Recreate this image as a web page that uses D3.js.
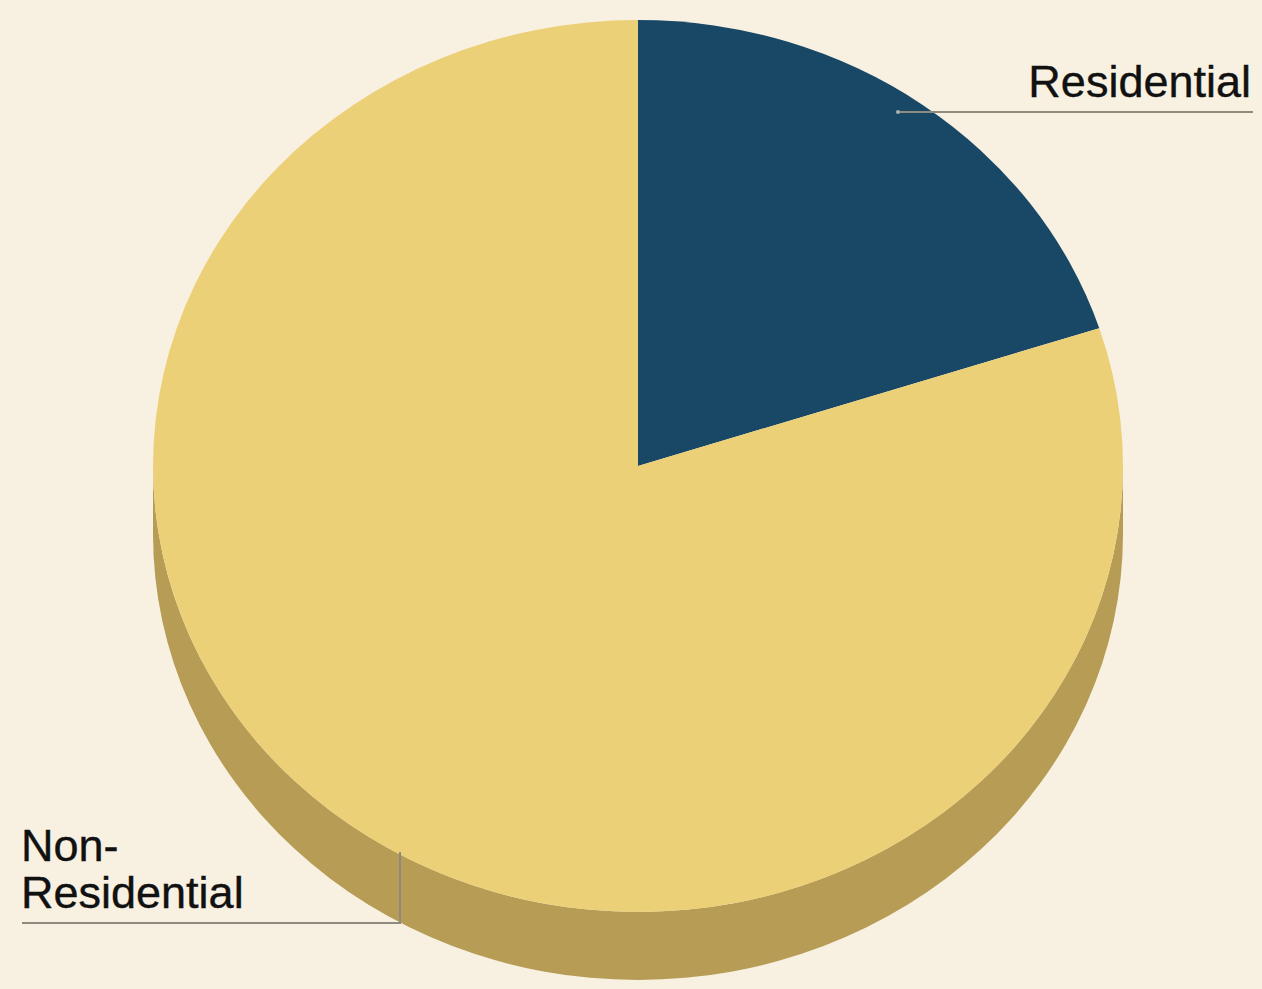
<!DOCTYPE html>
<html><head><meta charset="utf-8">
<script src="https://cdn.jsdelivr.net/npm/d3@7"></script>
<style>html,body{margin:0;padding:0;background:#f8f0e0;}svg{display:block;}</style>
</head><body>
<script>
const categories = ["Residential", "Non-Residential"];
const values = [20, 80];
const colors = ["#184866", "#ecd077"];

const W = 1262, H = 989;
const cx = 638, cy = 466, rx = 485, ry = 446, depth = 68;
const sideColor = "#b79c55";

const svg = d3.select("body").append("svg").attr("width", W).attr("height", H);
svg.append("rect").attr("width", W).attr("height", H).attr("fill", "#f8f1e1");

// side band (extrusion)
const sp = `M${cx - rx},${cy} L${cx - rx},${cy + depth} A${rx},${ry} 0 0 0 ${cx + rx},${cy + depth} L${cx + rx},${cy} A${rx},${ry} 0 0 1 ${cx - rx},${cy} Z`;
svg.append("path").attr("d", sp).attr("fill", sideColor);

// top face
const pie = d3.pie().sort(null).value(d => d)(values);
const arc = d3.arc().innerRadius(0).outerRadius(ry);
const g = svg.append("g").attr("transform", `translate(${cx},${cy}) scale(${rx / ry},1)`);
g.selectAll("path").data(pie).enter().append("path")
  .attr("d", arc)
  .attr("fill", (d, i) => colors[i]);

// labels
const font = "'Liberation Sans', Arial, Helvetica, sans-serif";
const lineColor = "#8d8b80";

svg.append("line").attr("x1", 898).attr("y1", 112).attr("x2", 1253).attr("y2", 112)
  .attr("stroke", lineColor).attr("stroke-width", 2);
svg.append("circle").attr("cx", 898).attr("cy", 112).attr("r", 2).attr("fill", "#b0b0a8");
svg.append("text").attr("x", 1251).attr("y", 97).attr("text-anchor", "end")
  .attr("font-family", font).attr("font-size", 45).attr("fill", "#111111")
  .attr("stroke", "#111111").attr("stroke-width", 0.4)
  .text(categories[0]);

svg.append("polyline").attr("points", "22,923 400,923 400,852")
  .attr("fill", "none").attr("stroke", lineColor).attr("stroke-width", 2);
const t2 = svg.append("text").attr("font-family", font).attr("font-size", 45).attr("fill", "#111111")
  .attr("stroke", "#111111").attr("stroke-width", 0.4);
t2.append("tspan").attr("x", 21).attr("y", 861).text("Non-");
t2.append("tspan").attr("x", 21).attr("y", 908).text("Residential");
</script>
</body></html>
